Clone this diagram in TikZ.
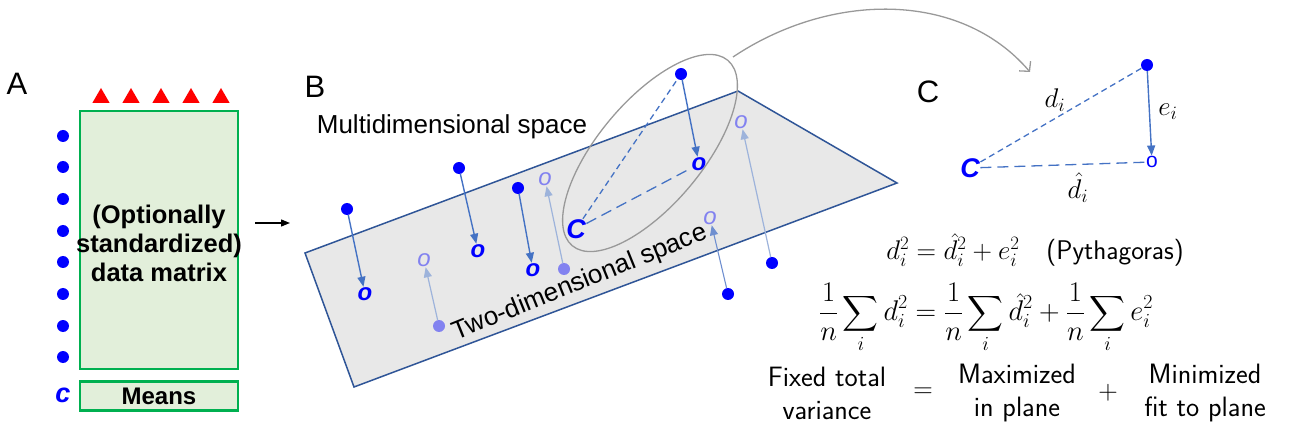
\RequirePackage{fix-cm}
\documentclass[tikz,border=0pt]{standalone}
\usepackage{fontspec}
\usepackage{amsmath}
\newfontfamily\arial{Liberation Sans}
\usetikzlibrary{arrows.meta,shapes.geometric}
\definecolor{ptblue}{HTML}{0000FF}
\definecolor{lightpt}{HTML}{8282F0}
\definecolor{arrblue}{HTML}{4472C4}
\definecolor{lightarr}{HTML}{9DB3DB}
\definecolor{midarr}{HTML}{6F8FD0}
\definecolor{gbord}{HTML}{00B050}
\definecolor{gfill}{HTML}{E2EFDA}
\definecolor{planefill}{HTML}{E8E8E8}
\definecolor{planeedge}{HTML}{2F5597}
\tikzset{
  dot/.style={circle,fill=ptblue,inner sep=0pt,minimum size=12pt},
  ldot/.style={circle,fill=lightpt,inner sep=0pt,minimum size=12pt},
  onode/.style={inner sep=0.5pt,text=ptblue,font=\arial\bfseries\itshape\fontsize{24}{24}\selectfont},
  lonode/.style={inner sep=0.5pt,text=lightpt,font=\arial\itshape\fontsize{24}{24}\selectfont},
  cnode/.style={inner sep=0.5pt,text=ptblue,font=\arial\bfseries\itshape\fontsize{27}{27}\selectfont},
  proj/.style={draw=arrblue,line width=1.4pt,-{Triangle[length=10pt,width=8pt]}},
  lproj/.style={draw=lightarr,line width=1.2pt,-{Triangle[length=10pt,width=8pt]}},
  mproj/.style={draw=midarr,line width=1.1pt,-{Triangle[length=10pt,width=8pt]}},
  dline/.style={draw=arrblue,line width=1.3pt,dash pattern=on 6pt off 4pt},
  dlong/.style={draw=arrblue,line width=1.3pt,dash pattern=on 11pt off 6pt},
  panel/.style={font=\arial\fontsize{31}{31}\selectfont},
  lab/.style={font=\arial\fontsize{26}{26}\selectfont},
  tri/.style={regular polygon,regular polygon sides=3,fill=red,inner sep=0pt,minimum size=20pt},
  gbox/.style={draw=gbord,fill=gfill,line width=2.5pt,inner sep=0pt},
  eq/.style={font=\fontsize{27}{32}\selectfont},
  sfl/.style={font=\sffamily\fontsize{28}{33}\selectfont,align=center},
}
\begin{document}
\begin{tikzpicture}[x=1pt,y=-1pt]
\useasboundingbox (0,0) rectangle (1290,430);
% ---------------- Panel A ----------------
\node[panel] (labA) at (17,84) {A};
\node[gbox,minimum width=158pt,minimum height=258pt] (mat) at (159,240) {};
\node[inner sep=0pt,font=\arial\bfseries\fontsize{25.5}{29}\selectfont,align=center] (mattext) at (159,243) {(Optionally\\standardized)\\data matrix};
\node[gbox,minimum width=158pt,minimum height=29pt,font=\arial\bfseries\fontsize{24}{24}\selectfont] (means) at (159,396) {Means};
\node[cnode] (cA) at (63,395) {c};
\foreach \i/\x in {1/101,2/131,3/161,4/191,5/221}{
  \node[tri] (t\i) at (\x,98) {};
}
\foreach \i/\y in {1/136,2/167,3/199,4/231,5/262,6/294,7/326,8/357}{
  \node[dot] (r\i) at (63,\y) {};
}
\coordinate (aS) at (255,223);
\coordinate (aE) at (290,223);
\draw[line width=1.3pt,-{Triangle[length=9pt,width=7pt]}] (aS) -- (aE);
% ---------------- Panel B ----------------
\node[panel] (labB) at (315,87) {B};
\coordinate (pl1) at (305,253);
\coordinate (pl2) at (738,91);
\coordinate (pl3) at (897,183);
\coordinate (pl4) at (354,387);
\draw[fill=planefill,draw=planeedge,line width=1.5pt,line join=miter] (pl1) -- (pl2) -- (pl3) -- (pl4) -- cycle;
\node[lab] (multi) at (452,127) {Multidimensional space};
\node[lab,rotate=22] (two) at (580,283) {Two-dimensional space};
% points above plane
\node[dot] (p1) at (347,209) {};
\node[onode] (o1) at (365,294) {o};
\node[dot] (p3) at (459,168) {};
\node[onode] (o3) at (478,251) {o};
\node[dot] (p4) at (518,188) {};
\node[onode] (o4) at (533,270) {o};
\node[dot] (p6) at (681,74) {};
\node[onode] (o6) at (699,164) {o};
\draw[proj] (p1) -- (o1);
\draw[proj] (p3) -- (o3);
\draw[proj] (p4) -- (o4);
\draw[proj] (p6) -- (o6);
% points below plane
\node[ldot] (q2) at (439,326) {};
\node[lonode] (lo2) at (424,260) {o};
\node[ldot] (q5) at (564,269) {};
\node[lonode] (lo5) at (545,179) {o};
\draw[lproj] (q2) -- (lo2);
\draw[lproj] (q5) -- (lo5);
\node[dot] (q8) at (772,263) {};
\node[lonode] (lo8) at (741,122) {o};
\node[dot] (q9) at (728,294) {};
\node[lonode] (lo9) at (710,218) {o};
\draw[lproj] (q8) -- (lo8);
\draw[mproj] (q9) -- (lo9);
% centroid
\node[cnode] (cB) at (576,229) {C};
\draw[dline] (cB) -- (p6);
\draw[dlong] (cB) -- (o6);
% ellipse and curved arrow
\node[draw=gray!80,line width=1.3pt,ellipse,minimum width=242pt,minimum height=104pt,inner sep=0pt,rotate=50] (ell) at (650,153) {};
\coordinate (cuS) at (733,57);
\coordinate (cuE) at (1030,72);
\draw[gray!80,line width=1.3pt,-{Straight Barb[length=7pt,width=15pt]}] (cuS) .. controls (830,-8) and (960,-10) .. (cuE);
% ---------------- Panel C ----------------
\node[panel] (labC) at (928,92) {C};
\node[dot] (pc) at (1147,65) {};
\node[inner sep=0.5pt,text=ptblue,font=\arial\fontsize{21}{21}\selectfont] (oc) at (1152,162) {o};
\node[cnode] (cc) at (970,168) {C};
\draw[proj] (pc) -- (oc);
\draw[dline] (cc) -- (pc);
\draw[dlong] (cc) -- (oc);
\node[eq] (ldi) at (1055,100) {$d_i$};
\node[eq] (lei) at (1168,112) {$e_i$};
\node[eq] (ldh) at (1078,188) {$\hat{d}_i$};
\node[eq] (eq1) at (1035,250) {$d_i^2=\hat{d}_i^2+e_i^2$\quad\textsf{(Pythagoras)}};
\node[eq,font=\fontsize{28.5}{34}\selectfont] (eq2) at (986,318) {$\displaystyle\frac{1}{n}\sum_i d_i^2=\frac{1}{n}\sum_i\hat{d}_i^2+\frac{1}{n}\sum_i e_i^2$};
\node[sfl] (ft) at (827,393) {Fixed total\\variance};
\node[eq] (eqs) at (923,393) {$=$};
\node[sfl] (mx) at (1017,393) {Maximized\\in plane};
\node[eq] (pls) at (1108,393) {$+$};
\node[sfl] (mn) at (1205,393) {Minimized\\fit to plane};
\end{tikzpicture}
\end{document}
